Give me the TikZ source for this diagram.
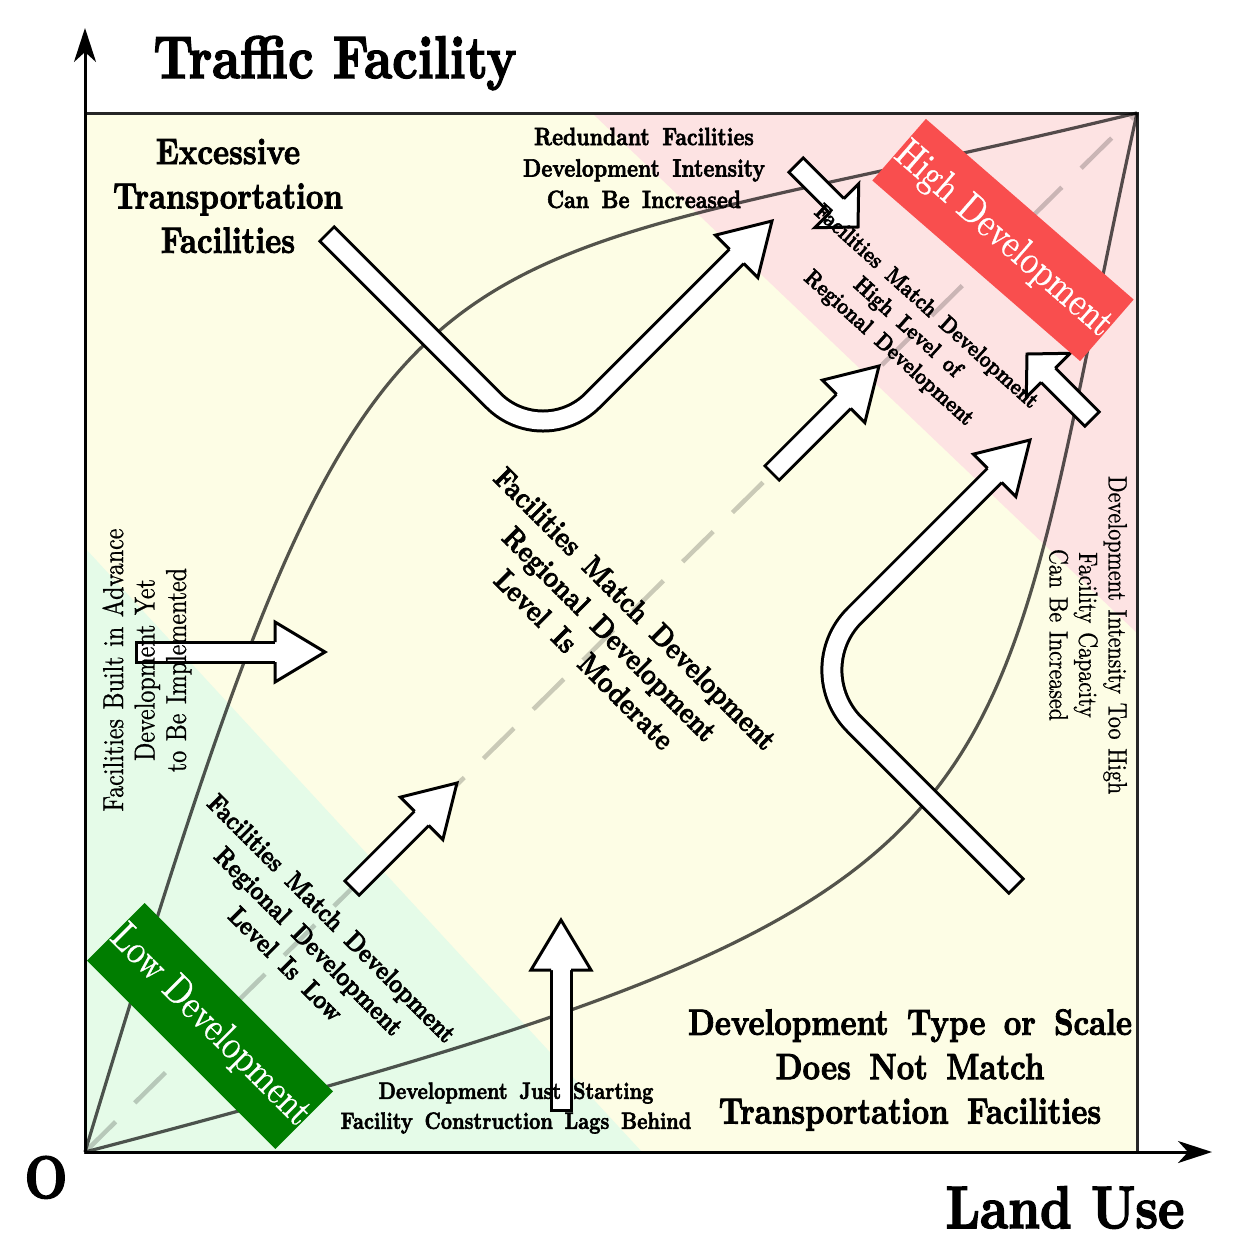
\documentclass[tikz,border=0pt]{standalone}
\usepackage{fontspec}
\setmainfont{lmroman10-regular.otf}[UprightFeatures={FakeBold=0.8},BoldFont=lmroman10-bold.otf,BoldFeatures={FakeBold=2.5}]
\usetikzlibrary{calc,arrows.meta}

\definecolor{landyellow}{RGB}{253,253,229}
\definecolor{highpink}{RGB}{253,227,227}
\definecolor{lowgreen}{RGB}{229,251,232}
\definecolor{highred}{RGB}{249,78,78}
\definecolor{lowdark}{RGB}{0,125,0}

\begin{document}
\begin{tikzpicture}[x=1pt,y=1pt]
                        \tikzstyle{every node}=[inner sep=0,outer sep=0]
                        \tikzstyle{curve}=[line width=3.2pt,draw=black,opacity=0.67]
                        \tikzstyle{diagonal}=[line width=4.5pt,draw=black,opacity=0.2,dash pattern=on 43pt off 27pt]
                        \tikzstyle{axis}=[line width=3pt,-{Stealth[length=34pt,width=22pt,inset=10pt]}]
                        \tikzstyle{shaftout}=[line width=23pt,draw=black]
                        \tikzstyle{shaftin}=[line width=17pt,draw=white,shorten <=3pt]
                        \tikzstyle{title}=[font=\bfseries\fontsize{50}{60}\selectfont,yscale=1.2]
                        \tikzstyle{zone}=[align=center,font=\bfseries\fontsize{30.5}{37}\selectfont\spaceskip.6em\relax,yscale=1.2]
                        \tikzstyle{redund}=[align=center,font=\bfseries\fontsize{20.8}{26.2}\selectfont\spaceskip.6em\relax,yscale=1.2]
                        \tikzstyle{lag}=[align=center,font=\bfseries\fontsize{19.6}{25}\selectfont\spaceskip.6em\relax,yscale=1.2]
                        \tikzstyle{matchmid}=[align=center,font=\bfseries\fontsize{25}{30}\selectfont\spaceskip.6em\relax,yscale=1.2]
                        \tikzstyle{matchlow}=[align=center,font=\bfseries\fontsize{22}{27}\selectfont\spaceskip.6em\relax,yscale=1.2]
                        \tikzstyle{matchhigh}=[align=center,font=\bfseries\fontsize{19}{23.3}\selectfont\spaceskip.6em\relax,yscale=1.2]
                        \tikzstyle{sideleft}=[align=center,font=\fontsize{24}{26.2}\selectfont\spaceskip.4em\relax,yscale=1.2]
                        \tikzstyle{sideright}=[align=center,font=\fontsize{22}{24.6}\selectfont\spaceskip.4em\relax,yscale=1.2]
                        \tikzstyle{devbox}=[font=\fontsize{34}{40}\selectfont,text=white,minimum height=68pt,yscale=1.2]
                        \tikzset{
                            bighead/.pic={\filldraw[fill=white,draw=black,line width=3pt]
                                (-50,10) -- (-50,30) -- (0,0) -- (-50,-30) -- (-50,-10);},
                            flathead/.pic={\filldraw[fill=white,draw=black,line width=3pt]
                                (-30,10) -- (-30,31) -- (0,0) -- (-30,-31) -- (-30,-10);}
                        }
                        \useasboundingbox (0,0) rectangle (1246,-1258);
                        {
                            % zones
                            \fill[landyellow] (85,-1152) rectangle (1137,-113);
                            \fill[highpink] (592,-113) -- (1137,-113) -- (1137,-633) -- cycle;
                            \fill[lowgreen] (85,-548) -- (85,-1152) -- (642,-1152) -- cycle;
                            \draw[line width=3pt,black!85] (85,-1152) rectangle (1137,-113);

                            \draw[diagonal] (85,-1152) -- (1137,-113);
                            \draw[curve] (85,-1152) .. controls (384,-163) and (382,-296) .. (1137,-113);
                            \draw[curve] (85,-1152) .. controls (1067,-895) and (978,-841) .. (1137,-113);

                            % bent arrows
                            \draw[shaftout,rounded corners=70pt] (326,-233) -- (543,-450) -- ($(772,-221)!40pt!(543,-450)$);
                            \draw[shaftin,rounded corners=70pt] (326,-233) -- (543,-450) -- ($(772,-221)!40pt!(543,-450)$);
                            \pic[rotate=45] at (772,-221) {bighead};
                            \draw[shaftout,rounded corners=77pt] (1017,-887) -- (800,-670) -- ($(1030,-440)!40pt!(800,-670)$);
                            \draw[shaftin,rounded corners=77pt] (1017,-887) -- (800,-670) -- ($(1030,-440)!40pt!(800,-670)$);
                            \pic[rotate=45] at (1030,-440) {bighead};

                            % straight arrows
                            \foreach \tx/\ty/\hx/\hy/\ang in {135/-652/325/-652/0,351/-889/457/-783/45,561/-1112/561/-920/90,771/-474/879/-366/45} {
                                \draw[shaftout] (\tx,\ty) -- ($(\hx,\hy)!40pt!(\tx,\ty)$);
                                \draw[shaftin] (\tx,\ty) -- ($(\hx,\hy)!40pt!(\tx,\ty)$);
                                \pic[rotate=\ang] at (\hx,\hy) {bighead};
                            }
                            \foreach \tx/\ty/\hx/\hy/\ang in {795/-164/858/-227/-45,1093/-420/1027/-354/135} {
                                \draw[shaftout] (\tx,\ty) -- ($(\hx,\hy)!20pt!(\tx,\ty)$);
                                \draw[shaftin] (\tx,\ty) -- ($(\hx,\hy)!20pt!(\tx,\ty)$);
                                \pic[rotate=\ang] at (\hx,\hy) {flathead};
                            }

                            \node[rotate=-41,devbox,fill=highred] (highdev) at (1003,-240) {High Development};
                            \node[rotate=-45,devbox,fill=lowdark] (lowdev) at (210,-1026) {Low Development};

                            \node[zone] (excess) at (228,-196) {Excessive\\Transportation\\Facilities};
                            \node[zone] (mismatch) at (910,-1070) {Development Type or Scale\\Does Not Match\\Transportation Facilities};
                            \node[redund] (redundant) at (644,-168) {Redundant Facilities\\Development Intensity\\Can Be Increased};
                            \node[lag] (lagging) at (516,-1108) {Development Just Starting\\Facility Construction Lags Behind};
                            \node[rotate=-45,matchmid] (moderate) at (610,-634) {Facilities Match Development\\Regional Development\\Level Is Moderate};
                            \node[rotate=-45,matchlow] (lowlevel) at (309,-941) {Facilities Match Development\\Regional Development\\Level Is Low};
                            \node[rotate=-42,matchhigh] (highlevel) at (907,-328) {Facilities Match Development\\High Level of\\Regional Development};
                            \node[rotate=90,sideleft] (advance) at (147,-670) {Facilities Built in Advance\\Development Yet\\to Be Implemented};
                            \node[rotate=-90,sideright] (toohigh) at (1088,-635) {Development Intensity Too High\\Facility Capacity\\Can Be Increased};

                            \draw[axis] (85,-1152) -- (85,-28);
                            \draw[axis] (85,-1152) -- (1212,-1152);
                            \node[title,anchor=base] (ylabel) at (335,-78) {Traffic Facility};
                            \node[title,anchor=base] (xlabel) at (1065,-1228) {Land Use};
                            \node[title,anchor=base] (origin) at (46,-1198) {O};
                        }
\end{tikzpicture}
\end{document}
